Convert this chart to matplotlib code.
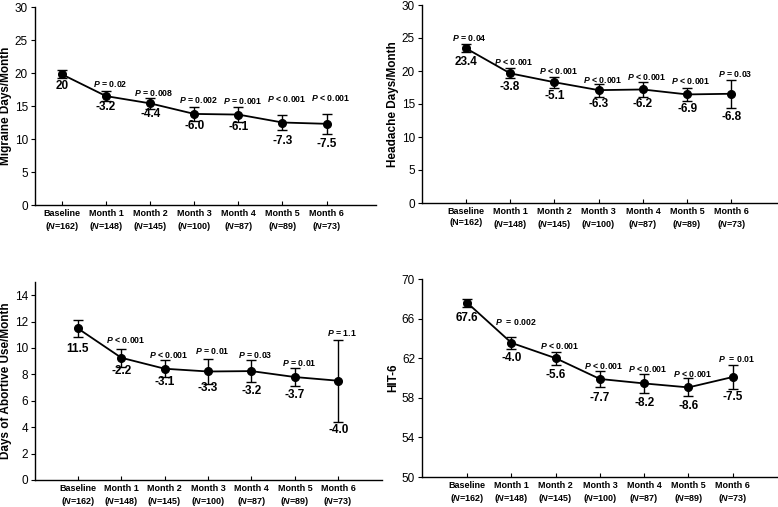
import matplotlib
matplotlib.use("Agg")
import matplotlib.pyplot as plt

plt.rcParams["font.family"] = ["Liberation Sans", "DejaVu Sans"]
plt.rcParams["mathtext.fontset"] = "custom"
plt.rcParams["mathtext.it"] = "Liberation Sans:italic:bold"
plt.rcParams["mathtext.rm"] = "Liberation Sans:bold"

months = ["Baseline", "Month 1", "Month 2", "Month 3", "Month 4", "Month 5", "Month 6"]
n_counts = [162, 148, 145, 100, 87, 89, 73]

# migraine days/month
migraine = [19.8, 16.5, 15.4, 13.8, 13.7, 12.5, 12.3]
migraine_err = [0.6, 0.8, 0.8, 1.0, 1.1, 1.1, 1.5]
migraine_lbl = ["20", "-3.2", "-4.4", "-6.0", "-6.1", "-7.3", "-7.5"]
migraine_p = ["", "= 0.02", "= 0.008", "= 0.002", "= 0.001", "< 0.001", "< 0.001"]

# headache days/month
headache = [23.45, 19.65, 18.3, 17.1, 17.2, 16.45, 16.55]
headache_err = [0.6, 0.75, 0.8, 1.0, 1.1, 1.05, 2.1]
headache_lbl = ["23.4", "-3.8", "-5.1", "-6.3", "-6.2", "-6.9", "-6.8"]
headache_p = ["= 0.04", "< 0.001", "< 0.001", "< 0.001", "< 0.001", "< 0.001", "= 0.03"]

# days of abortive use/month
abortive = [11.48, 9.26, 8.43, 8.22, 8.25, 7.8, 7.52]
abortive_err = [0.67, 0.68, 0.65, 0.97, 0.81, 0.7, 3.1]
abortive_lbl = ["11.5", "-2.2", "-3.1", "-3.3", "-3.2", "-3.7", "-4.0"]
abortive_p = ["", "< 0.001", "< 0.001", "= 0.01", "= 0.03", "= 0.01", "= 1.1"]

# HIT-6
hit6 = [67.6, 63.55, 62.0, 59.9, 59.45, 59.05, 60.1]
hit6_err = [0.4, 0.63, 0.67, 0.8, 1.0, 0.9, 1.24]
hit6_lbl = ["67.6", "-4.0", "-5.6", "-7.7", "-8.2", "-8.6", "-7.5"]
hit6_p = ["", " = 0.002", "< 0.001", "< 0.001", "< 0.001", "< 0.001", " = 0.01"]

W, H = 778, 507
fig = plt.figure(figsize=(W / 100, H / 100), dpi=100)


def px_axes(left, right, top, bottom):
    return fig.add_axes([left / W, 1 - bottom / H, (right - left) / W, (bottom - top) / H])


def panel(ax, vals, errs, lbls, pvals, ylabel, ylim, yticks, xlim,
          val_dy, p_dy, italic_base=True):
    x = list(range(len(months)))
    ax.errorbar(x, vals, yerr=errs, color="black", lw=1.3, marker="o", ms=5.5,
                capsize=3.5, elinewidth=1.0, capthick=1.0)
    for i in x:
        ax.annotate(lbls[i], (i, vals[i]), xytext=(0, -val_dy[i]), textcoords="offset pixels",
                    ha="center", va="center", fontsize=8.5, fontweight="bold")
        if pvals[i]:
            ax.annotate(r"$\it{P}$ " + pvals[i], (i, vals[i]), xytext=(4, p_dy[i]),
                        textcoords="offset pixels", ha="center", va="center",
                        fontsize=6.3, fontweight="bold")
    ax.set_xlim(*xlim)
    ax.set_ylim(*ylim)
    ax.set_yticks(yticks)
    ax.set_xticks(x)
    labels = []
    for i, m in enumerate(months):
        if i == 0 and not italic_base:
            labels.append(f"{m}\n(N={n_counts[i]})")
        else:
            labels.append(f"{m}\n(" + r"$\it{N}$" + f"={n_counts[i]})")
    ax.set_xticklabels(labels, fontsize=6.5, fontweight="bold", linespacing=1.2)
    ax.tick_params(axis="x", direction="in", length=3, width=0.8, pad=3)
    ax.tick_params(axis="y", direction="out", length=3, width=0.8, labelsize=8.5, pad=2)
    for s in ["top", "right"]:
        ax.spines[s].set_visible(False)
    for s in ["left", "bottom"]:
        ax.spines[s].set_linewidth(1.0)
    ax.set_ylabel(ylabel, fontsize=8.5, fontweight="bold", labelpad=2)


ax1 = px_axes(35, 376, 7, 205)
panel(ax1, migraine, migraine_err, migraine_lbl, migraine_p, "Migraine Days/Month",
      (0, 30), range(0, 31, 5), (-0.61, 7.12),
      [12, 10.5, 10.5, 12, 12.5, 18.3, 20.3], [0, 12, 10, 14, 14, 23.4, 26.3])

ax2 = px_axes(422, 777, 5, 203)
panel(ax2, headache, headache_err, headache_lbl, headache_p, "Headache Days/Month",
      (0, 30), range(0, 31, 5), (-0.99, 7.03),
      [13.7, 14, 13.4, 14, 14.4, 14.6, 23.6], [10.6, 11, 11, 10, 12.3, 13.4, 20],
      italic_base=False)

ax3 = px_axes(35, 382, 282, 480)
panel(ax3, abortive, abortive_err, abortive_lbl, abortive_p, "Days of Abortive Use/Month",
      (0, 15), range(0, 15, 2), (-0.99, 7.01),
      [21, 13, 13, 17, 20, 18.3, 49.3], [0, 17.7, 13.3, 20, 16, 14.3, 47.4])

ax4 = px_axes(422, 777, 279, 477)
panel(ax4, hit6, hit6_err, hit6_lbl, hit6_p, "HIT-6",
      (50, 70), range(50, 71, 4), (-1.02, 7.0),
      [15, 15.4, 16.7, 19, 20, 18.7, 19.7], [0, 21, 12.3, 13.3, 14.3, 13, 17.7])

fig.savefig("out.png", dpi=100)
